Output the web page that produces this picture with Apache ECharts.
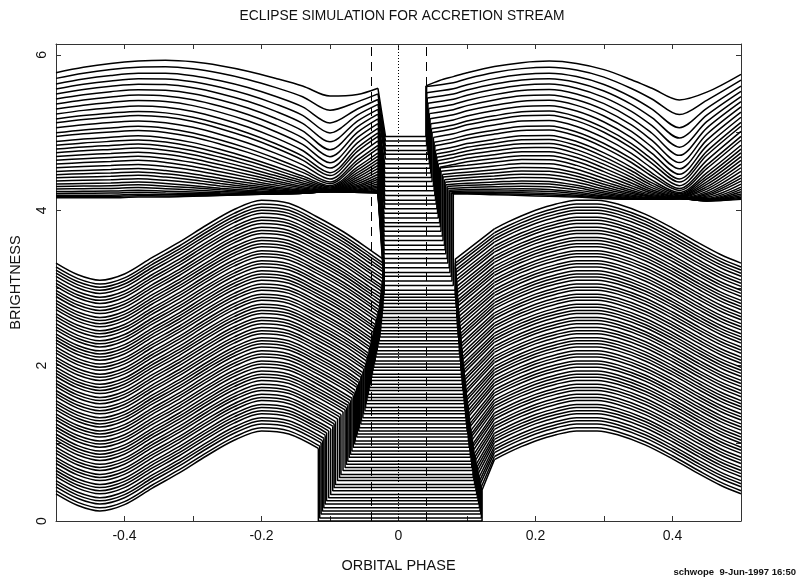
<!DOCTYPE html>
<html>
<head>
<meta charset="utf-8">
<script src="https://cdn.jsdelivr.net/npm/echarts@6.0.0/dist/echarts.min.js"></script>
<style>
  html, body { margin: 0; background: #fff; }
  #chart { width: 807px; height: 583px; }
</style>
</head>
<body>
<div id="chart"></div>
<script>
// tick labels
const xTickValues = [-0.4, -0.2, 0, 0.2, 0.4];
const xTickLabels = ['-0.4', '-0.2', '0', '0.2', '0.4'];
const yTickValues = [0, 2, 4, 6];
const yTickLabels = ['0', '2', '4', '6'];
// eclipse markers
const guidePhases = [-0.039, 0.039];
const centrePhase = 0;

// lower family: shape above each curve's eclipse floor
const lowerLeftPhase = [-0.5, -0.468, -0.436, -0.40, -0.36, -0.32, -0.28, -0.24, -0.20, -0.16, -0.12, -0.08, -0.04];
const lowerLeftShape = [0.35, 0.20, 0.13, 0.21, 0.42, 0.62, 0.84, 1.04, 1.16, 1.12, 0.95, 0.75, 0.51];
const lowerRightPhase = [0.14, 0.16, 0.18, 0.20, 0.23, 0.26, 0.29, 0.32, 0.36, 0.40, 0.44, 0.47, 0.50];
const lowerRightShape = [0.79, 0.88, 0.96, 1.03, 1.11, 1.16, 1.16, 1.11, 0.98, 0.80, 0.60, 0.46, 0.35];
const lowerRise = 0.40;
const lowerFlat = [
  0.00, 0.04, 0.09, 0.13, 0.17, 0.22, 0.26, 0.30, 0.34, 0.39,
  0.43, 0.47, 0.52, 0.56, 0.60, 0.65, 0.69, 0.73, 0.77, 0.82,
  0.86, 0.90, 0.95, 0.99, 1.03, 1.08, 1.12, 1.16, 1.20, 1.25,
  1.29, 1.33, 1.38, 1.42, 1.46, 1.51, 1.55, 1.59, 1.63, 1.68,
  1.72, 1.76, 1.81, 1.85, 1.89, 1.94, 1.98, 2.02, 2.06, 2.11,
  2.15, 2.19, 2.24, 2.28, 2.32, 2.37, 2.41, 2.45, 2.49, 2.54,
  2.58, 2.62, 2.67, 2.71, 2.75, 2.80, 2.84, 2.88, 2.92, 2.97];
const lowerIngress = [
  -0.117, -0.115, -0.113, -0.111, -0.109, -0.107, -0.105, -0.102, -0.099, -0.096,
  -0.094, -0.092, -0.089, -0.086, -0.084, -0.081, -0.078, -0.076, -0.074, -0.072,
  -0.070, -0.068, -0.066, -0.064, -0.063, -0.061, -0.060, -0.058, -0.057, -0.055,
  -0.054, -0.052, -0.051, -0.049, -0.048, -0.047, -0.046, -0.045, -0.044, -0.043,
  -0.042, -0.041, -0.040, -0.039, -0.038, -0.037, -0.036, -0.035, -0.034, -0.033,
  -0.032, -0.031, -0.030, -0.029, -0.028, -0.027, -0.027, -0.026, -0.026, -0.025,
  -0.025, -0.024, -0.024, -0.023, -0.023, -0.023, -0.022, -0.022, -0.021, -0.021];
// height above the floor where each curve starts its drop
const lowerIngressHeight = [
  0.935, 0.925, 0.915, 0.905, 0.895, 0.885, 0.875, 0.86, 0.845, 0.83,
  0.82, 0.81, 0.795, 0.78, 0.77, 0.755, 0.74, 0.73, 0.72, 0.70,
  0.69, 0.68, 0.67, 0.65, 0.65, 0.64, 0.63, 0.62, 0.61, 0.60,
  0.59, 0.58, 0.58, 0.56, 0.56, 0.55, 0.55, 0.54, 0.53, 0.53,
  0.52, 0.52, 0.51, 0.50, 0.50, 0.49, 0.49, 0.48, 0.47, 0.47,
  0.46, 0.46, 0.45, 0.44, 0.44, 0.43, 0.43, 0.43, 0.43, 0.42,
  0.42, 0.41, 0.41, 0.41, 0.41, 0.41, 0.40, 0.40, 0.39, 0.39];
const lowerEgress = [
  0.122, 0.121, 0.120, 0.119, 0.118, 0.117, 0.116, 0.115, 0.114, 0.113,
  0.112, 0.111, 0.110, 0.109, 0.109, 0.108, 0.107, 0.107, 0.106, 0.105,
  0.105, 0.104, 0.103, 0.103, 0.102, 0.102, 0.101, 0.100, 0.100, 0.099,
  0.099, 0.098, 0.098, 0.097, 0.097, 0.096, 0.096, 0.095, 0.095, 0.094,
  0.094, 0.093, 0.093, 0.092, 0.092, 0.091, 0.091, 0.091, 0.090, 0.090,
  0.089, 0.089, 0.089, 0.088, 0.088, 0.087, 0.087, 0.087, 0.086, 0.086,
  0.086, 0.085, 0.085, 0.085, 0.084, 0.084, 0.084, 0.083, 0.083, 0.083];

// upper family: bottom and top curves; the others sit between them,
// bunching towards the bottom one near the two dips (spread exponent)
const upperLeftPhase = [-0.5, -0.46, -0.42, -0.38, -0.34, -0.30, -0.26, -0.22, -0.18, -0.14, -0.10, -0.06, -0.03];
const upperLeftTop = [5.77, 5.84, 5.89, 5.92, 5.93, 5.91, 5.86, 5.79, 5.70, 5.60, 5.47, 5.49, 5.57];
const upperLeftBottom = [4.16, 4.16, 4.16, 4.17, 4.17, 4.18, 4.19, 4.20, 4.21, 4.22, 4.24, 4.23, 4.22];
const upperLeftSpread = [1.0, 1.0, 1.0, 1.0, 1.05, 1.15, 1.3, 1.5, 1.8, 2.3, 3.5, 1.7, 1.2];
const upperRightPhase = [0.04, 0.06, 0.08, 0.10, 0.14, 0.18, 0.22, 0.26, 0.30, 0.34, 0.37, 0.41, 0.45, 0.50];
const upperRightTop = [5.60, 5.67, 5.72, 5.77, 5.85, 5.90, 5.92, 5.89, 5.81, 5.68, 5.57, 5.42, 5.52, 5.75];
const upperRightBottom = [4.21, 4.21, 4.21, 4.21, 4.20, 4.19, 4.18, 4.17, 4.15, 4.14, 4.14, 4.15, 4.12, 4.14];
const upperRightSpread = [1.25, 1.2, 1.15, 1.1, 1.05, 1.0, 1.0, 1.1, 1.3, 1.65, 2.2, 3.5, 1.7, 1.05];
const upperWeight = [
  0, 0.01, 0.02, 0.035, 0.05, 0.07, 0.09, 0.11, 0.135, 0.16,
  0.185, 0.21, 0.24, 0.27, 0.30, 0.33, 0.36, 0.39, 0.42, 0.45,
  0.49, 0.52, 0.56, 0.60, 0.63, 0.67, 0.71, 0.75, 0.79, 0.83,
  0.87, 0.91, 0.955, 1.0];
const upperFlat = [
  3.03, 3.09, 3.15, 3.20, 3.26, 3.32, 3.38, 3.44, 3.49, 3.55,
  3.61, 3.67, 3.73, 3.79, 3.84, 3.90, 3.96, 4.02, 4.08, 4.13,
  4.19, 4.25, 4.31, 4.37, 4.42, 4.48, 4.54, 4.60, 4.66, 4.72,
  4.77, 4.83, 4.89, 4.95];
const upperIngress = [
  -0.021, -0.021, -0.021, -0.021, -0.021, -0.021, -0.021, -0.021, -0.021, -0.021,
  -0.021, -0.021, -0.021, -0.021, -0.021, -0.021, -0.021, -0.020, -0.020, -0.020,
  -0.020, -0.020, -0.020, -0.020, -0.020, -0.020, -0.020, -0.020, -0.019, -0.019,
  -0.019, -0.019, -0.019, -0.019];
const upperEgress = [
  0.080, 0.078, 0.077, 0.075, 0.074, 0.072, 0.071, 0.069, 0.068, 0.067,
  0.065, 0.064, 0.062, 0.061, 0.060, 0.058, 0.057, 0.056, 0.055, 0.054,
  0.053, 0.052, 0.051, 0.049, 0.048, 0.047, 0.046, 0.045, 0.044, 0.043,
  0.042, 0.041, 0.041, 0.040];

const chart = echarts.init(document.getElementById('chart'));
const series = [];

function pushLine(data, smooth) {
  series.push({
    type: 'line',
    data: data,
    smooth: smooth ? 0.32 : false,
    symbol: 'none',
    silent: true,
    lineStyle: {color: '#000', width: 1.5},
    z: 3
  });
}

function tickLabel(values, labels) {
  return function (v) {
    for (let i = 0; i < values.length; i++) {
      if (Math.abs(v - values[i]) < 1e-6) return labels[i];
    }
    return '';
  };
}

// lower family
for (let k = 0; k < lowerFlat.length; k++) {
  const f = lowerFlat[k];
  const xin = lowerIngress[k];
  const xout = lowerEgress[k];
  const left = [];
  lowerLeftPhase.forEach(function (x, j) {
    if (x < xin - 0.012) left.push([x, f + lowerLeftShape[j]]);
  });
  const end = [xin, f + lowerIngressHeight[k]];
  left.push(end);
  const right = lowerRightPhase.map(function (x, j) { return [x, f + lowerRightShape[j]]; });
  pushLine(left, true);
  // drop, floor, rise and the straight climb to the first knot
  pushLine([end, [xin, f], [xout, f], [xout, f + lowerRise], right[0]], false);
  pushLine(right, true);
}

// upper family
for (let k = 0; k < upperFlat.length; k++) {
  const w = upperWeight[k];
  const f = upperFlat[k];
  const left = upperLeftPhase.map(function (x, j) {
    const b = upperLeftBottom[j];
    return [x, b + (upperLeftTop[j] - b) * Math.pow(w, upperLeftSpread[j])];
  });
  const vals = upperRightPhase.map(function (x, j) {
    const b = upperRightBottom[j];
    return b + (upperRightTop[j] - b) * Math.pow(w, upperRightSpread[j]);
  });
  const xout = upperEgress[k];
  const j0 = upperRightPhase.findIndex(function (x) { return x >= xout - 1e-9; });
  const start = [xout, vals[j0]];
  const right = [start];
  for (let j = j0 + 1; j < upperRightPhase.length; j++) right.push([upperRightPhase[j], vals[j]]);
  pushLine(left, true);
  pushLine([left[left.length - 1], [upperIngress[k], f], [xout, f], start], false);
  pushLine(right, true);
}

// dashed eclipse limits + dotted centre
series.push({
  type: 'line',
  data: [],
  silent: true,
  markLine: {
    silent: true,
    symbol: ['none', 'none'],
    label: {show: false},
    animation: false,
    data: guidePhases.map(function (p) {
      return {xAxis: p, lineStyle: {color: '#000', width: 1, type: [9, 6]}};
    }).concat([{xAxis: centrePhase, lineStyle: {color: '#000', width: 1, type: [1, 2]}}])
  }
});

const fontFam = 'Liberation Sans, Arial, sans-serif';
const frame = {onZero: false, lineStyle: {color: '#333', width: 1}};

chart.setOption({
  animation: false,
  backgroundColor: '#fff',
  title: [
    {
      text: 'ECLIPSE SIMULATION FOR ACCRETION STREAM',
      left: 397, top: 4, textAlign: 'center',
      textStyle: {fontFamily: fontFam, fontSize: 13.8, fontWeight: 'normal', color: '#111'}
    },
    {
      text: 'schwope  9-Jun-1997 16:50',
      right: 6, bottom: 1,
      textStyle: {fontFamily: fontFam, fontSize: 9.5, fontWeight: 'bold', color: '#111'}
    }
  ],
  grid: {left: 54, right: 66, top: 44, bottom: 62},
  xAxis: [
    {
      type: 'value', min: -0.5, max: 0.5, interval: 0.1, position: 'bottom',
      axisLine: frame,
      axisTick: {inside: true, length: 5, lineStyle: {color: '#333'}},
      axisLabel: {formatter: tickLabel(xTickValues, xTickLabels), color: '#111', fontSize: 14,
        fontFamily: fontFam, margin: 8},
      splitLine: {show: false},
      name: 'ORBITAL PHASE', nameLocation: 'middle', nameGap: 37,
      nameTextStyle: {fontFamily: fontFam, fontSize: 14.5, color: '#111'}
    },
    {
      type: 'value', min: -0.5, max: 0.5, interval: 0.1, position: 'top',
      axisLine: frame,
      axisTick: {inside: true, length: 5, lineStyle: {color: '#333'}},
      axisLabel: {show: false},
      splitLine: {show: false}
    }
  ],
  yAxis: [
    {
      type: 'value', min: 0, max: 6.14, interval: 1, position: 'left',
      axisLine: frame,
      axisTick: {inside: true, length: 5, lineStyle: {color: '#333'}},
      axisLabel: {formatter: tickLabel(yTickValues, yTickLabels), rotate: 90, color: '#111',
        fontSize: 14, fontFamily: fontFam, margin: 7},
      splitLine: {show: false},
      name: 'BRIGHTNESS', nameLocation: 'middle', nameGap: 33, nameRotate: 90,
      nameTextStyle: {fontFamily: fontFam, fontSize: 14.5, color: '#111'}
    },
    {
      type: 'value', min: 0, max: 6.14, interval: 1, position: 'right',
      axisLine: frame,
      axisTick: {inside: true, length: 5, lineStyle: {color: '#333'}},
      axisLabel: {show: false},
      splitLine: {show: false}
    }
  ],
  series: series
});
</script>
</body>
</html>
